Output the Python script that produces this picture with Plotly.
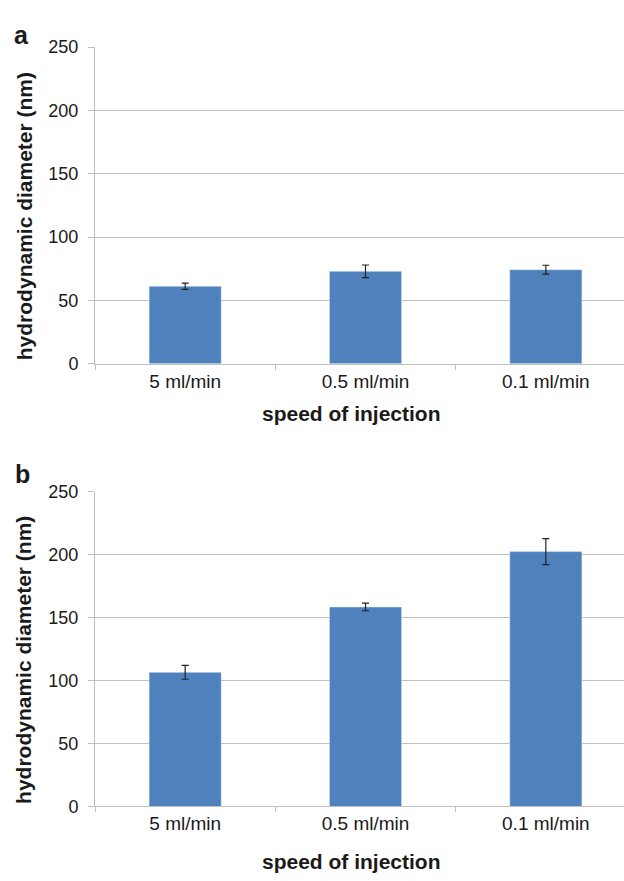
import plotly.graph_objects as go

categories = ["5 ml/min", "0.5 ml/min", "0.1 ml/min"]
values_a = [61.2, 73.0, 74.3]
errors_a = [2.5, 5.0, 3.5]
values_b = [106.6, 158.5, 202.5]
errors_b = [5.5, 3.0, 10.3]
y_ticks = [0, 50, 100, 150, 200, 250]

W, H = 624, 881
BAR = "#4F81BD"
GRID = "#BFBFBF"
FONT = "Liberation Sans, Arial, sans-serif"
TXT = "#1a1a1a"

fig = go.Figure()
fig.add_trace(go.Bar(x=categories, y=values_a, marker_color=BAR, width=0.4,
                     error_y=dict(type="data", array=errors_a, color="#222", thickness=1.2, width=3.5),
                     xaxis="x", yaxis="y", showlegend=False))
fig.add_trace(go.Bar(x=categories, y=values_b, marker_color=BAR, width=0.4,
                     error_y=dict(type="data", array=errors_b, color="#222", thickness=1.2, width=3.5),
                     xaxis="x2", yaxis="y2", showlegend=False))

x0 = 95 / W
xr = [-0.5, 2.5 - (636 - 624) / 180.0]

def yd(top_px, bot_px):
    return [1 - bot_px / H, 1 - top_px / H]

common_x = dict(type="category", range=xr, domain=[x0, 1], showline=True, linecolor=GRID, linewidth=1,
                ticks="outside", tickson="boundaries", ticklen=5, tickcolor=GRID,
                tickfont=dict(family=FONT, size=19, color=TXT), showgrid=False, fixedrange=True)
common_y = dict(range=[0, 250], tickvals=y_ticks, showline=True, linecolor=GRID, linewidth=1,
                ticks="outside", ticklen=6, tickcolor=GRID, showgrid=True, gridcolor=GRID, gridwidth=1,
                zeroline=False, ticklabelstandoff=6, tickfont=dict(family=FONT, size=18, color=TXT))

fig.update_layout(
    width=W, height=H, margin=dict(l=0, r=0, t=0, b=0),
    paper_bgcolor="white", plot_bgcolor="white",
    xaxis=dict(common_x, anchor="y"),
    yaxis=dict(common_y, domain=yd(38, 362), anchor="x"),
    xaxis2=dict(common_x, anchor="y2"),
    yaxis2=dict(common_y, domain=yd(493, 815), anchor="x2"),
    bargap=0.6,
)

ann = []
def a(text, x, y, size, angle=0):
    ann.append(dict(text=text, x=x / W, y=1 - y / H, xref="paper", yref="paper", showarrow=False,
                    font=dict(family=FONT, size=size, color=TXT), textangle=angle,
                    xanchor="center", yanchor="middle"))
a("<b>a</b>", 21, 26, 25)
a("<b>b</b>", 22, 475, 25)
a("<b>hydrodynamic diameter (nm)</b>", 24, 211, 21, -90)
a("<b>hydrodynamic diameter (nm)</b>", 24, 665, 21, -90)
a("<b>speed of injection</b>", 351, 413, 21)
a("<b>speed of injection</b>", 351, 871, 21)
fig.update_layout(annotations=ann)

fig.write_html("out.html")
